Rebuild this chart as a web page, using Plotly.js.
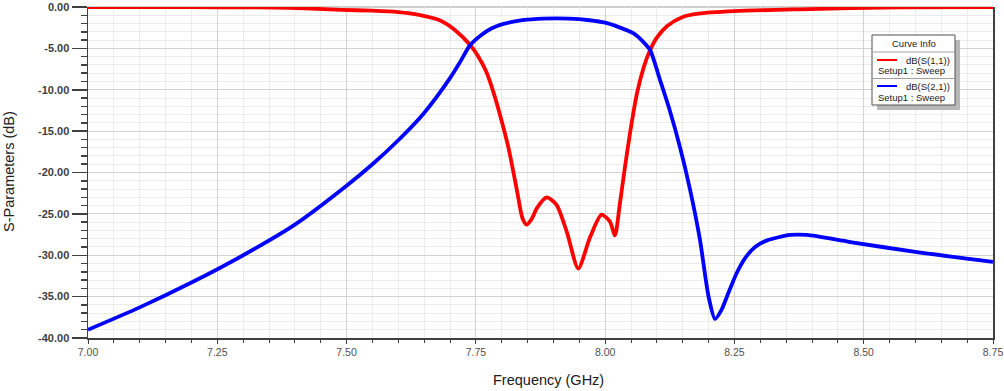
<!DOCTYPE html>
<html>
<head>
<meta charset="utf-8">
<script src="https://cdn.plot.ly/plotly-3.0.1.min.js"></script>
<style>
html,body{margin:0;padding:0;background:#fff;}
#chart{width:1004px;height:391px;}
</style>
</head>
<body>
<div id="chart"></div>
<script>
// S11 (red)
const freqS11 = [7.00, 7.10, 7.20, 7.30, 7.36, 7.42, 7.49, 7.55, 7.60, 7.64, 7.68, 7.71, 7.739, 7.755, 7.77, 7.785, 7.80, 7.813, 7.829, 7.84, 7.848, 7.858, 7.868, 7.887, 7.906, 7.926, 7.948, 7.971, 7.993, 8.009, 8.019, 8.028, 8.038, 8.05, 8.062, 8.075, 8.087, 8.10, 8.12, 8.15, 8.18, 8.25, 8.377, 8.57, 8.75];
const s11 = [0.0, -0.01, -0.02, -0.04, -0.08, -0.16, -0.34, -0.45, -0.62, -0.95, -1.6, -2.8, -4.6, -6.0, -7.8, -10.5, -13.8, -17.0, -22.0, -25.5, -26.3, -25.6, -24.3, -23.0, -23.9, -27.2, -31.6, -27.8, -25.1, -25.9, -27.6, -24.0, -19.5, -14.5, -10.3, -7.2, -5.2, -3.7, -2.3, -1.2, -0.8, -0.5, -0.28, -0.04, 0.0];
// S21 (blue)
const freqS21 = [7.00, 7.10, 7.20, 7.30, 7.40, 7.50, 7.55, 7.60, 7.65, 7.70, 7.72, 7.739, 7.76, 7.78, 7.80, 7.84, 7.88, 7.93, 7.97, 8.00, 8.025, 8.055, 8.075, 8.087, 8.106, 8.125, 8.145, 8.164, 8.183, 8.20, 8.2125, 8.225, 8.238, 8.254, 8.27, 8.29, 8.313, 8.358, 8.39, 8.474, 8.60, 8.75];
const s21 = [-39.0, -36.3, -33.3, -30.0, -26.3, -21.6, -19.0, -16.1, -12.8, -8.6, -6.6, -4.6, -3.4, -2.6, -2.1, -1.6, -1.4, -1.4, -1.6, -1.9, -2.4, -3.2, -4.3, -5.2, -8.8, -12.5, -17.0, -22.0, -28.0, -35.0, -37.7, -36.6, -34.6, -32.2, -30.4, -29.0, -28.2, -27.55, -27.55, -28.4, -29.6, -30.8];
const xTicks = [7.00, 7.25, 7.50, 7.75, 8.00, 8.25, 8.50, 8.75];
const yTicks = [0, -5, -10, -15, -20, -25, -30, -35, -40];
const curveNames = ["dB(S(1,1))", "dB(S(2,1))"];
const setupName = "Setup1 : Sweep";
const legendTitle = "Curve Info";
const xTitle = "Frequency (GHz)";
const yTitle = "S-Parameters (dB)";
const colors = ["#ff0000", "#0000ff"];

const font = "Liberation Sans, Arial, sans-serif";
const traces = [
  {x: freqS11, y: s11, mode: "lines", line: {color: colors[0], width: 3.8, shape: "spline", smoothing: 0.7}, name: curveNames[0], showlegend: false, hoverinfo: "none"},
  {x: freqS21, y: s21, mode: "lines", line: {color: colors[1], width: 3.8, shape: "spline", smoothing: 0.7}, name: curveNames[1], showlegend: false, hoverinfo: "none"}
];

const W = 1004, H = 391, L = 88, R = 11, T = 7, B = 53;
const pw = W - L - R, ph = H - T - B;
const px = x => (x - L) / pw;
const py = y => 1 - (y - T) / ph;

const shapes = [
  {type: "line", xref: "paper", yref: "paper", x0: 0, x1: 1, y0: 1, y1: 1, line: {color: "#a0a0a0", width: 1.2}, layer: "below"},
  {type: "rect", xref: "paper", yref: "paper", x0: px(877), x1: px(960), y0: py(110), y1: py(40), fillcolor: "#b8b8b8", line: {width: 0}},
  {type: "rect", xref: "paper", yref: "paper", x0: px(872), x1: px(955), y0: py(105), y1: py(35), fillcolor: "#ffffff", line: {color: "#505050", width: 1}},
  {type: "line", xref: "paper", yref: "paper", x0: px(872), x1: px(955), y0: py(52), y1: py(52), line: {color: "#a0a0a0", width: 1}},
  {type: "line", xref: "paper", yref: "paper", x0: px(872), x1: px(955), y0: py(78.5), y1: py(78.5), line: {color: "#a0a0a0", width: 1}},
  {type: "line", xref: "paper", yref: "paper", x0: px(877), x1: px(897), y0: py(60), y1: py(60), line: {color: colors[0], width: 2}},
  {type: "line", xref: "paper", yref: "paper", x0: px(877), x1: px(897), y0: py(86), y1: py(86), line: {color: colors[1], width: 2}}
];

const annFont = {family: font, size: 9.5, color: "#202020"};
const annotations = [
  {xref: "paper", yref: "paper", x: px(914), y: py(44), text: legendTitle, showarrow: false, font: annFont, xanchor: "center", yanchor: "middle"},
  {xref: "paper", yref: "paper", x: px(952), y: py(60), text: curveNames[0], showarrow: false, font: annFont, xanchor: "right", yanchor: "middle"},
  {xref: "paper", yref: "paper", x: px(876), y: py(71), text: setupName, showarrow: false, font: annFont, xanchor: "left", yanchor: "middle"},
  {xref: "paper", yref: "paper", x: px(952), y: py(86), text: curveNames[1], showarrow: false, font: annFont, xanchor: "right", yanchor: "middle"},
  {xref: "paper", yref: "paper", x: px(876), y: py(97.5), text: setupName, showarrow: false, font: annFont, xanchor: "left", yanchor: "middle"},
  {xref: "paper", yref: "paper", x: px(9), y: py(172), text: yTitle, showarrow: false, textangle: -90, font: {family: font, size: 14.5, color: "#202020"}, xanchor: "center", yanchor: "middle"},
  {xref: "paper", yref: "paper", x: px(548), y: py(380), text: xTitle, showarrow: false, font: {family: font, size: 14.5, color: "#202020"}, xanchor: "center", yanchor: "middle"}
];

const layout = {
  width: W, height: H,
  margin: {l: L, r: R, t: T, b: B, pad: 0},
  paper_bgcolor: "#ffffff", plot_bgcolor: "#ffffff",
  showlegend: false,
  font: {family: font, color: "#404040"},
  xaxis: {
    range: [7, 8.75], tickmode: "array", tickvals: xTicks, ticktext: xTicks.map(v => v.toFixed(2)),
    ticks: "outside", ticklen: 4, tickwidth: 1, tickcolor: "#404040",
    tickfont: {family: font, size: 10.5, color: "#505050"},
    showgrid: true, gridcolor: "#d2d2d2", gridwidth: 1,
    minor: {dtick: 0.05, ticks: "outside", ticklen: 3, tickcolor: "#404040", showgrid: true, gridcolor: "#ebebeb", gridwidth: 1},
    showline: true, linecolor: "#404040", linewidth: 1.5, mirror: false,
    zeroline: false
  },
  yaxis: {
    range: [-40, 0], tickmode: "array", tickvals: yTicks, ticktext: yTicks.map(v => v.toFixed(2)),
    ticks: "outside", ticklen: 15, tickwidth: 1.5, tickcolor: "#404040",
    tickfont: {family: font, size: 11, color: "#404040", weight: "bold"},
    showgrid: true, gridcolor: "#d2d2d2", gridwidth: 1,
    minor: {dtick: 1, ticks: "outside", ticklen: 6, tickcolor: "#404040", showgrid: true, gridcolor: "#ebebeb", gridwidth: 1},
    showline: true, linecolor: "#404040", linewidth: 1.5, mirror: true,
    zeroline: false
  },
  shapes: shapes,
  annotations: annotations
};

Plotly.newPlot("chart", traces, layout, {displayModeBar: false, staticPlot: true});
</script>
</body>
</html>
